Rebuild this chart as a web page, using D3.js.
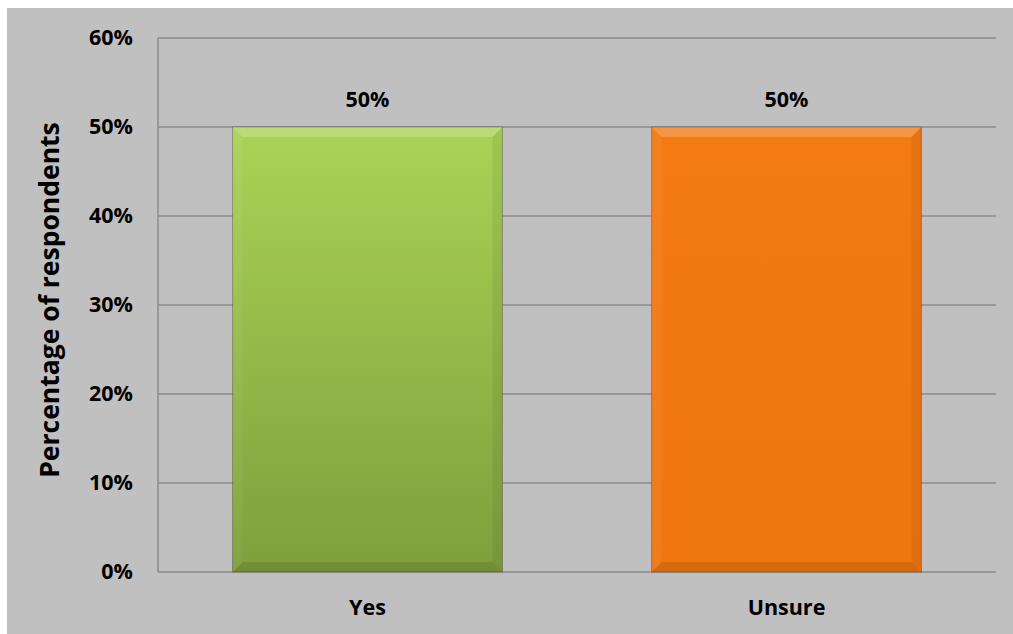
<!DOCTYPE html>
<html>
<head>
<meta charset="utf-8">
<script src="https://cdn.jsdelivr.net/npm/d3@7"></script>
<style>
  html, body { margin: 0; padding: 0; background: #ffffff; }
  svg { display: block; }
  text { font-family: "Open Sans", "Noto Sans", sans-serif; font-weight: 700; fill: #000; }
</style>
</head>
<body>
<svg id="chart" width="1013" height="634"></svg>
<script>
// Survey answers and their share of respondents
const categories = ["Yes", "Unsure"];
const values = [0.50, 0.50];
const barTop = ["#aad356", "#f47b14"];
const barBottom = ["#7f9f3c", "#ef750f"];
const tickValues = [0, 0.1, 0.2, 0.3, 0.4, 0.5, 0.6];
const yTitle = "Percentage of respondents";

const W = 1013, H = 634;
const plot = { left: 158, top: 38, right: 996, bottom: 572 };
const labelFont = "21.5px";

const svg = d3.select("#chart");

// chart background
svg.append("rect").attr("x", 7).attr("y", 8).attr("width", W - 7).attr("height", H - 8).attr("fill", "#c0c0c0");

const x = d3.scaleBand().domain(categories).range([plot.left, plot.right]).paddingInner(0.356).paddingOuter(0.178);
const y = d3.scaleLinear().domain([0, 0.6]).range([plot.bottom, plot.top]);

// horizontal gridlines
svg.append("g").selectAll("line").data(tickValues).join("line")
  .attr("x1", plot.left).attr("x2", plot.right)
  .attr("y1", d => y(d)).attr("y2", d => y(d))
  .attr("stroke", "#8c8c8c").attr("stroke-width", 1.5);

// vertical axis line
svg.append("line").attr("x1", plot.left).attr("x2", plot.left)
  .attr("y1", plot.top).attr("y2", plot.bottom)
  .attr("stroke", "#8c8c8c").attr("stroke-width", 1.5);

// y tick labels
const yAxis = d3.axisLeft(y).tickValues(tickValues).tickFormat(d3.format(".0%")).tickSize(0).tickPadding(25);
const gy = svg.append("g").attr("transform", `translate(${plot.left},0)`).call(yAxis);
gy.select(".domain").remove();
gy.selectAll("text").style("font-size", labelFont).style("font-family", "'Open Sans', sans-serif").style("font-weight", 700).attr("fill", "#000");

// x category labels
const xAxis = d3.axisBottom(x).tickSize(0).tickPadding(28);
const gx = svg.append("g").attr("transform", `translate(0,${plot.bottom})`).call(xAxis);
gx.select(".domain").remove();
gx.selectAll("text").style("font-size", labelFont).style("font-family", "'Open Sans', sans-serif").style("font-weight", 700).attr("fill", "#000");

// gradients
const defs = svg.append("defs");
categories.forEach((c, i) => {
  const g = defs.append("linearGradient").attr("id", "grad" + i).attr("x1", 0).attr("y1", 0).attr("x2", 0).attr("y2", 1);
  g.append("stop").attr("offset", "0%").attr("stop-color", barTop[i]);
  g.append("stop").attr("offset", "100%").attr("stop-color", barBottom[i]);
});

// bars with bevelled edges
const bev = 10;
const bars = svg.append("g").selectAll("g").data(categories).join("g");
bars.each(function(c, i) {
  const g = d3.select(this);
  const x0 = x(c), x1 = x(c) + x.bandwidth();
  const y0 = y(values[i]), y1 = y(0);
  g.append("rect").attr("x", x0).attr("y", y0).attr("width", x1 - x0).attr("height", y1 - y0)
    .attr("fill", `url(#grad${i})`);
  // top bevel (light)
  g.append("polygon").attr("points", [[x0, y0], [x1, y0], [x1 - bev, y0 + bev], [x0 + bev, y0 + bev]].join(" "))
    .attr("fill", "#ffffff").attr("opacity", 0.2);
  // left bevel
  g.append("polygon").attr("points", [[x0, y0], [x0 + bev, y0 + bev], [x0 + bev, y1 - bev], [x0, y1]].join(" "))
    .attr("fill", "#ffffff").attr("opacity", 0.05);
  // right bevel (dark)
  g.append("polygon").attr("points", [[x1, y0], [x1, y1], [x1 - bev, y1 - bev], [x1 - bev, y0 + bev]].join(" "))
    .attr("fill", "#000000").attr("opacity", 0.06);
  // bottom bevel (dark)
  g.append("polygon").attr("points", [[x0, y1], [x1, y1], [x1 - bev, y1 - bev], [x0 + bev, y1 - bev]].join(" "))
    .attr("fill", "#000000").attr("opacity", 0.1);
  g.append("rect").attr("x", x0).attr("y", y0).attr("width", x1 - x0).attr("height", y1 - y0)
    .attr("fill", "none").attr("stroke", "#000").attr("stroke-opacity", 0.25).attr("stroke-width", 1);
});

// value labels
svg.append("g").selectAll("text").data(categories).join("text")
  .attr("x", c => x(c) + x.bandwidth() / 2)
  .attr("y", (c, i) => y(values[i]) - 28)
  .attr("dy", "0.35em")
  .attr("text-anchor", "middle")
  .style("font-size", labelFont)
  .text((c, i) => d3.format(".0%")(values[i]));

// y axis title
svg.append("text")
  .attr("transform", `translate(50,300) rotate(-90)`)
  .attr("text-anchor", "middle")
  .attr("dy", "0.35em")
  .style("font-size", "26.5px")
  .text(yTitle);
</script>
</body>
</html>
